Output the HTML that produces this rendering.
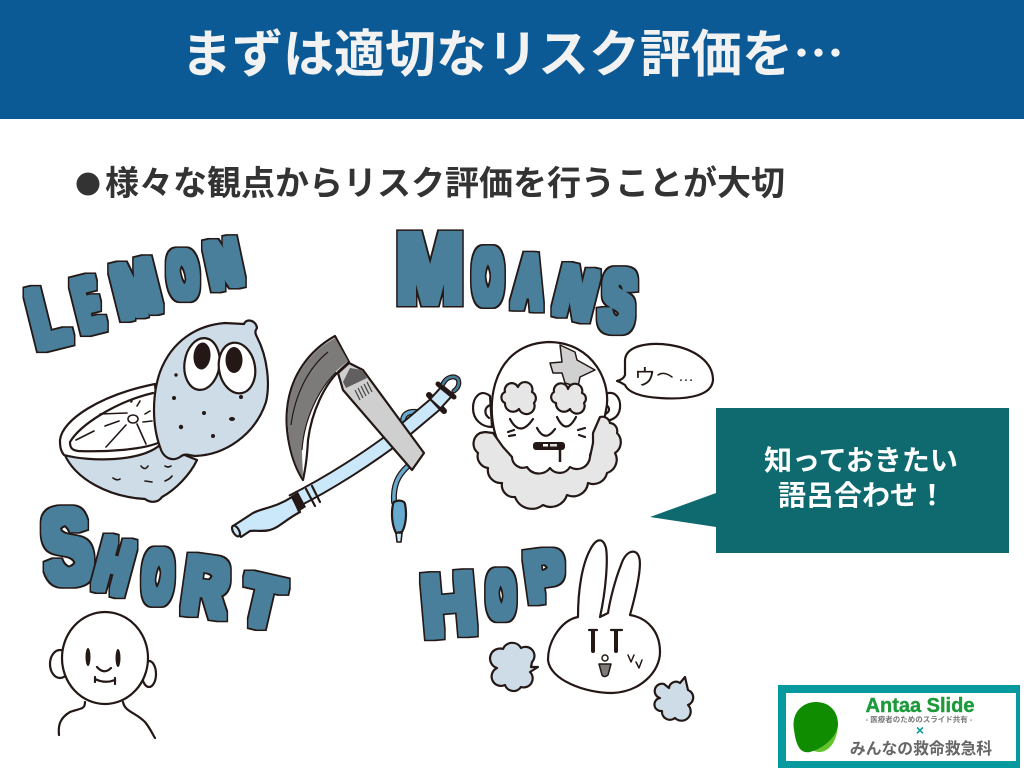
<!DOCTYPE html>
<html lang="ja"><head><meta charset="utf-8"><style>
html,body{margin:0;padding:0;background:#fff;width:1024px;height:768px;overflow:hidden}
svg{display:block}
text{font-family:"Liberation Sans","Noto Sans CJK JP",sans-serif}
.l{font-size:100px;font-weight:bold;fill:#000;text-anchor:middle}
.o{stroke:#231815;stroke-width:2.2;stroke-linejoin:round;stroke-linecap:round}
.n{fill:none}
</style></head><body>
<svg width="1024" height="768" viewBox="0 0 1024 768" xmlns="http://www.w3.org/2000/svg">
<defs>
<filter id="c" x="-40%" y="-40%" width="180%" height="180%" color-interpolation-filters="sRGB">
<feMorphology in="SourceAlpha" operator="dilate" radius="5.6" result="d"/>
<feFlood flood-color="#231815"/><feComposite in2="d" operator="in" result="dark"/>
<feMorphology in="SourceAlpha" operator="dilate" radius="4" result="f"/>
<feFlood flood-color="#4a7f9b"/><feComposite in2="f" operator="in" result="fill"/>
<feMerge><feMergeNode in="dark"/><feMergeNode in="fill"/></feMerge>
</filter>
</defs>
<rect width="1024" height="119" fill="#0b5a96"/>
<text x="181" y="72" font-size="51" font-weight="bold" fill="#f2f2f2">まずは適切なリスク評価を<tspan style="font-family:'Noto Sans CJK JP',sans-serif">⋯</tspan></text>
<circle cx="88" cy="184" r="11.5" fill="#333"/>
<text x="105" y="195" font-size="34" font-weight="bold" fill="#333">様々な観点からリスク評価を行うことが大切</text>

<!-- LEMON -->
<g filter="url(#c)"><text class="l" transform="translate(48,317) rotate(-14) scale(.57,.83) translate(0,34)">L</text></g>
<g filter="url(#c)"><text class="l" transform="translate(88,305) rotate(-14) scale(.33,.74) translate(0,34)">E</text></g>
<g filter="url(#c)"><text class="l" transform="translate(136,289) rotate(-14) scale(.51,.74) translate(0,34)">M</text></g>
<g filter="url(#c)"><text class="l" transform="translate(183,275) rotate(-8) scale(.36,.65) translate(0,34)">O</text></g>
<g filter="url(#c)"><text class="l" transform="translate(224,264) rotate(-12) scale(.45,.64) translate(0,34)">N</text></g>
<!-- MOANS -->
<g filter="url(#c)"><text class="l" transform="translate(430,269) scale(.81,.97) translate(0,34)">M</text></g>
<g filter="url(#c)"><text class="l" transform="translate(488,277) scale(.36,.76) translate(0,34)">O</text></g>
<g filter="url(#c)"><text class="l" transform="translate(529,282) rotate(5) scale(.38,.74) translate(0,34)">A</text></g>
<g filter="url(#c)"><text class="l" transform="translate(576,293) rotate(14) scale(.52,.68) translate(0,34)">N</text></g>
<g filter="url(#c)"><text class="l" transform="translate(618,301) rotate(8) scale(.5,.85) translate(0,34)">S</text></g>
<!-- SHORT -->
<g filter="url(#c)"><text class="l" transform="translate(67,547) rotate(-8) scale(.71,1.04) translate(0,34)">S</text></g>
<g filter="url(#c)"><text class="l" transform="translate(114,566) rotate(15) scale(.44,.74) translate(0,34)">H</text></g>
<g filter="url(#c)"><text class="l" transform="translate(158,577) rotate(5) scale(.36,.73) translate(0,34)">O</text></g>
<g filter="url(#c)"><text class="l" transform="translate(206,587) rotate(8) scale(.61,.8) translate(0,34)">R</text></g>
<g filter="url(#c)"><text class="l" transform="translate(262,602) rotate(13) scale(.63,.68) translate(0,34)">T</text></g>
<!-- HOP -->
<g filter="url(#c)"><text class="l" transform="translate(449,605) rotate(-5) scale(.75,.85) translate(0,34)">H</text></g>
<g filter="url(#c)"><text class="l" transform="translate(501,595) rotate(-2) scale(.33,.65) translate(0,34)">O</text></g>
<g filter="url(#c)"><text class="l" transform="translate(545,576) rotate(-8) scale(.57,.68) translate(0,34)">P</text></g>

<!-- half lemon -->
<path class="o" fill="#cddce7" d="M64 453C75 480 110 497 145 499C150 503 158 503 162 497C175 490 190 475 197 460L160 445Z"/>
<path class="o" fill="#fff" d="M60 440C62 420 100 395 155 384L160 445C140 462 90 462 64 455C60 450 60 445 60 440Z"/>
<path class="o n" d="M70 442C80 425 115 402 153 393M70 442C70 448 72 450 78 451C105 452 140 450 158 443"/>
<g class="o n" style="stroke-width:1.6">
<path d="M76 440L94 431M105 426L119 421M100 414L127 413M137 406L140 401M131 402L132 401M145 414L150 411M143 422L152 421M126 425L106 447M137 424L146 444"/>
<ellipse cx="133" cy="419" rx="5" ry="4"/>
<path d="M141 466Q145 471 148 466M165 466Q168 468 171 466M113 478Q117 481 120 479M145 481L152 482M165 481Q170 479 172 476"/>
</g>
<!-- lemon -->
<path class="o" fill="#cddce7" d="M160 447C152 425 152 395 160 372C172 340 198 325 225 323L244 324C246 318 256 320 257 328C254 332 256 335 257 337C268 358 270 385 266 402C255 435 225 455 195 456C188 455 185 453 180 457C172 462 163 458 160 447Z"/>
<ellipse class="o" cx="202" cy="364" rx="17.5" ry="26" transform="rotate(8 202 364)" fill="#fff"/>
<ellipse class="o" cx="237" cy="368" rx="18" ry="25.5" transform="rotate(-10 237 368)" fill="#fff"/>
<ellipse cx="202" cy="356" rx="8.5" ry="13.5" fill="#231815" transform="rotate(5 202 356)"/>
<ellipse cx="234" cy="360" rx="8.5" ry="13" fill="#231815"/>
<g fill="#231815"><circle cx="176" cy="375" r="1.7"/><circle cx="174" cy="398" r="2"/><circle cx="241" cy="397" r="2"/><circle cx="204" cy="413" r="2"/><ellipse cx="232" cy="419" rx="3" ry="2"/><circle cx="181" cy="427" r="2.2"/><circle cx="213" cy="436" r="2"/></g>

<!-- tube -->
<path fill="none" stroke="#231815" stroke-width="6" d="M403 424C402 414 408 411 417 412"/>
<path fill="none" stroke="#66abcf" stroke-width="3.5" d="M403 424C402 414 408 411 417 412"/>
<path fill="none" stroke="#231815" stroke-width="6" stroke-linecap="round" d="M408 466C398 475 393 485 394 502"/>
<path fill="none" stroke="#66abcf" stroke-width="3.5" stroke-linecap="round" d="M408 466C398 475 393 485 394 502"/>
<path d="M292 502C330 483 370 457 400 434L438 402" fill="none" stroke="#231815" stroke-width="16"/>
<path d="M292 502C330 483 370 457 400 434L438 402" fill="none" stroke="#cbe8fa" stroke-width="12"/>
<path class="o" fill="#cbe8fa" d="M233 526L253 513C262 508 275 508 292 497L300 512C285 520 280 527 270 530C262 532 255 530 250 531L241 537Z"/>
<ellipse class="o" cx="236" cy="531" rx="3" ry="6" fill="#cbe8fa" transform="rotate(-30 236 531)"/>
<path fill="#231815" d="M291 496L298 492L306 507L298 512Z"/>
<path class="o n" d="M306 489L315 506M312 486L320 502"/>
<path stroke="#231815" stroke-width="6" stroke-linecap="round" d="M429 395L444 411"/>
<path d="M436 403L447 391" stroke="#231815" stroke-width="16"/>
<path d="M436 403L447 391" stroke="#cbe8fa" stroke-width="12"/>
<path stroke="#231815" stroke-width="5" stroke-linecap="round" d="M438 384L454 397"/>
<path fill="none" stroke="#231815" stroke-width="5" stroke-linecap="round" d="M443 384C446 377 454 375 458 379C460 384 458 388 454 391"/>
<path fill="none" stroke="#4a7f9b" stroke-width="2.5" stroke-linecap="round" d="M443 384C446 377 454 375 458 379C460 384 458 388 454 391"/>
<path class="o" fill="#66abcf" d="M393 504C393 500 404 499 405 504C407 514 406 525 402 532L396 533C392 525 391 514 393 504Z"/>
<path class="o" fill="#cbe8fa" d="M396 533L402 533L401 542L397 542Z" style="stroke-width:1.6"/>
<!-- laryngoscope -->
<path class="o" fill="#fff" d="M303 480C290 460 285 430 287 410C290 375 310 350 335 336L349 362L338 372C325 385 312 410 308 440C307 460 305 470 303 480Z"/>
<path fill="#7d7b7a" d="M303 478C291 460 286 430 288 410C291 376 311 351 335 338L348 361L335 372C318 390 304 420 302 450C302 460 303 470 303 478Z"/>
<path class="n" stroke="#231815" stroke-width="1.2" d="M328 352C308 368 295 395 291 425"/>
<path class="n" stroke="#231815" stroke-width="1.2" d="M336 372C318 390 304 420 302 450"/>
<path class="o" fill="#cfcfcf" d="M343 390L338 373L349 363L363 370L424 453L412 470Z"/>
<path fill="#cfcfcf" d="M342 372L350 365L353 369L346 378Z"/>
<path fill="#615f5f" d="M350 368L362 370L367 378L346 388L343 382Z"/>
<path stroke="#444" stroke-width="1.2" d="M355 390L360 400M358 388L363 398M361 386L366 396M364 384L369 394M367 382L372 392"/>

<!-- Moans face -->
<path class="o" fill="#fff" d="M490 396C480 388 473 398 473 408C473 420 482 427 492 427Z"/>
<path class="o" fill="#fff" d="M605 394C615 390 621 398 620 408C619 418 610 422 602 420Z"/>
<path class="o n" d="M490 405C484 408 484 414 489 418M604 405C610 405 611 412 605 414"/>
<path class="o" fill="#fff" d="M500 445C485 420 485 345 548 342C595 342 612 385 606 410C604 425 598 435 590 455"/>
<path fill="#d0d0d0" stroke="#231815" stroke-width="1.5" stroke-linejoin="round" d="M560 345L575 352L577 360L595 370L580 377L578 387L565 383L562 373L553 373L550 363L562 362Z"/>
<path class="o" fill="#e6e6e6" d="M480 433A12 12 0 0 0 478 453A12 12 0 0 0 488 468A13 13 0 0 0 502 483A12 12 0 0 0 515 497A18 18 0 0 0 543 505A17 17 0 0 0 567 495A15 15 0 0 0 588 483A14 14 0 0 0 607 473A14 14 0 0 0 615 453A13 13 0 0 0 617 433A8 8 0 0 0 610 423A8 8 0 0 0 600 417L593 433L593 443L590 457A13 13 0 0 1 570 467A12 12 0 0 1 550 468A14 14 0 0 1 527 467A11 11 0 0 1 512 457L503 447L493 433L485 432Z"/>
<path class="o" fill="#e6e6e6" d="M505 403A6 6 0 0 1 505 392A7 7 0 0 1 518 387A7 7 0 0 1 532 392A7 7 0 0 1 534 403A7 7 0 0 1 519 409A8 8 0 0 1 505 403Z"/>
<path class="o" fill="#e6e6e6" d="M556 403A6 6 0 0 1 554 392A7 7 0 0 1 568 389A7 7 0 0 1 582 393A6 6 0 0 1 584 403A7 7 0 0 1 570 409A8 8 0 0 1 556 403Z"/>
<path class="o n" d="M510 419Q520 438 533 419M557 417Q566 436 576 417M537 428Q545 443 555 429M508 432L514 430M509 436L515 435M578 430L585 428M579 435L585 437"/>
<rect x="533" y="442" width="32" height="8" rx="3" fill="#231815"/>
<rect x="543" y="444" width="5" height="2.5" fill="#fff"/><rect x="550" y="444" width="7" height="2.5" fill="#ddd"/>
<path stroke="#231815" stroke-width="2.5" d="M560 450V462"/>
<!-- speech -->
<path class="o" fill="#fff" d="M625 360C626 345 650 342 670 345C695 349 713 362 713 380C712 395 690 400 660 398C640 397 628 392 625 385C622 383 620 382 617 381C621 380 624 378 625 375Z"/>
<text x="634" y="385" font-size="22" fill="#231815">ウ</text>
<path class="o n" style="stroke-width:1.5" d="M658 375Q664 371 672 377"/>
<text x="678" y="381" font-size="16" fill="#231815">…</text>

<!-- Short face -->
<ellipse class="o" cx="60" cy="664" rx="10" ry="14" fill="#fff"/>
<ellipse class="o" cx="149" cy="674" rx="7" ry="13" fill="#fff"/>
<ellipse class="o" cx="105" cy="658" rx="43" ry="46" fill="#fff"/>
<ellipse cx="88" cy="657" rx="2.5" ry="9" fill="#231815"/><ellipse cx="118" cy="658" rx="2.5" ry="9" fill="#231815"/>
<path class="o n" d="M97 667Q104 675 111 668M95 679Q105 684 115 680M95 677V682M115 678V684M85 702C85 710 80 708 70 712C60 718 58 725 59 735M123 702C125 712 135 712 145 722C150 728 153 735 155 738"/>

<!-- Rabbit -->
<path class="o" fill="#fff" d="M578 617C562 620 548 640 548 660C550 680 585 693 612 693C640 692 660 672 660 652C660 632 648 618 630 615C637 590 642 565 639 557C636 548 626 550 621 565C615 580 610 600 608 613L600 617C606 590 608 560 606 548C603 537 596 538 590 550C582 565 578 590 578 617Z"/>
<path class="o n" d="M589 630H597M611 630H622"/>
<path stroke="#231815" stroke-width="4" stroke-linecap="round" d="M593 631V651M616 631V651"/>
<path class="o" fill="#7d7b7a" style="stroke-width:1.5" d="M599 664L611 664L608 675C606 677 603 677 602 675Z"/>
<circle cx="605" cy="658" r="3" fill="none" stroke="#231815" stroke-width="1.5"/>
<path class="o n" style="stroke-width:1.5" d="M628 655L631 662L634 655M636 662L639 668L642 660"/>
<path class="o" fill="#cddce7" d="M497 668A9 9 0 0 1 503 649A10 10 0 0 1 521 648A9 9 0 0 1 532 662L531 667L538 667L530 672A9 9 0 0 1 521 687A9 9 0 0 1 505 685A9 9 0 0 1 497 668Z"/>
<path class="o" fill="#cddce7" d="M660 698A6 6 0 0 1 664 684L669 688A7 7 0 0 1 680 683L685 677L688 690A8 8 0 0 1 688 705A8 8 0 0 1 675 718A8 8 0 0 1 662 711A6 6 0 0 1 660 698Z"/>

<!-- Callout -->
<path fill="#0f6a70" d="M716 408H1009V553H716V527L650 517L716 493Z"/>
<text x="861" y="470" font-size="28" font-weight="bold" fill="#fff" text-anchor="middle">知っておきたい</text>
<text x="862" y="505" font-size="28" font-weight="bold" fill="#fff" text-anchor="middle">語呂合わせ！</text>

<!-- Logo -->
<rect x="778" y="685" width="242" height="83" fill="#069a9e"/>
<rect x="786" y="693" width="230" height="68" fill="#fff"/>
<path fill="#62c32f" d="M812 750C825 757 838 745 838 722L825 730Z"/>
<path fill="#0f8c00" d="M794 730C791 712 803 702 816 702C830 702 838 712 838 724C838 735 825 748 810 752C800 754 796 745 794 730Z"/>
<text x="920" y="712" font-size="20" font-weight="bold" fill="#1e9a3c" stroke="#1e9a3c" stroke-width=".4" text-anchor="middle">Antaa Slide</text>
<text x="919" y="722" font-size="7.5" font-weight="bold" fill="#777" text-anchor="middle">- 医療者のためのスライド共有 -</text>
<text x="920" y="735" font-size="14" font-weight="bold" fill="#069a9e" text-anchor="middle">×</text>
<text x="921" y="754" font-size="15.8" font-weight="bold" fill="#666" text-anchor="middle">みんなの救命救急科</text>
</svg>
</body></html>
